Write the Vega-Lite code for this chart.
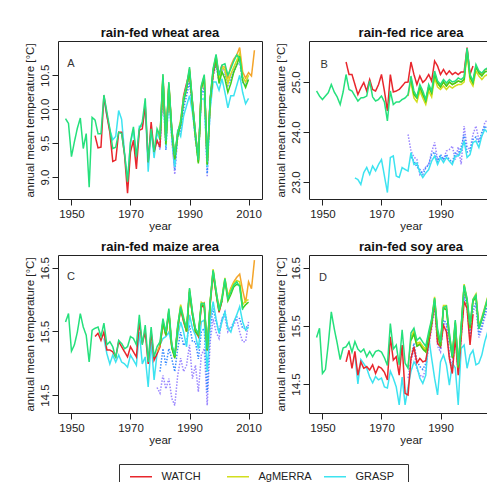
{
  "$schema": "https://vega.github.io/schema/vega-lite/v6.json",
  "padding": {"left": 23, "top": 26, "right": 0, "bottom": 0},
  "bounds": "flush",
  "columns": 2,
  "spacing": {"row": 56, "column": 47},
  "config": {
    "font": "Liberation Sans",
    "view": {"stroke": "#222", "strokeWidth": 1},
    "axis": {"domain": false, "grid": false, "tickColor": "#222", "tickSize": 6, "labelFont": "Liberation Sans", "labelFontSize": 11.5, "labelColor": "#222", "titleFont": "Liberation Sans", "titleFontSize": 11.5, "titleFontWeight": "normal", "titleColor": "#222"},
    "axisX": {"labelPadding": 3, "titlePadding": 1},
    "axisY": {"labelAngle": 270, "labelAlign": "center", "labelBaseline": "alphabetic", "labelPadding": 4, "titlePadding": 4},
    "title": {"fontSize": 13, "fontWeight": "bold", "font": "Liberation Sans", "color": "#111", "baseline": "alphabetic", "offset": 1, "anchor": "middle"}
  },
  "datasets": {
    "A": [
      {"s":"ERA-I","x":1979,"v":9.55},{"s":"ERA-I","x":1980,"v":9.40},{"s":"ERA-I","x":1981,"v":10.35},{"s":"ERA-I","x":1982,"v":9.55},{"s":"ERA-I","x":1983,"v":10.30},{"s":"ERA-I","x":1984,"v":9.60},{"s":"ERA-I","x":1985,"v":9.04},{"s":"ERA-I","x":1986,"v":9.62},{"s":"ERA-I","x":1987,"v":9.70},{"s":"ERA-I","x":1988,"v":10.05},{"s":"ERA-I","x":1989,"v":10.28},{"s":"ERA-I","x":1990,"v":10.45},{"s":"ERA-I","x":1991,"v":10.05},{"s":"ERA-I","x":1992,"v":9.55},{"s":"ERA-I","x":1993,"v":9.30},{"s":"ERA-I","x":1994,"v":10.25},{"s":"ERA-I","x":1995,"v":10.35},{"s":"ERA-I","x":1996,"v":9.00},{"s":"ERA-I","x":1997,"v":10.10},{"s":"ERA-I","x":1998,"v":10.55},{"s":"ERA-I","x":1999,"v":10.70},{"s":"ERA-I","x":2000,"v":10.45},{"s":"ERA-I","x":2001,"v":10.60},{"s":"ERA-I","x":2002,"v":10.55},{"s":"ERA-I","x":2003,"v":10.40},{"s":"ERA-I","x":2004,"v":10.50},{"s":"ERA-I","x":2005,"v":10.60},{"s":"ERA-I","x":2006,"v":10.70},{"s":"ERA-I","x":2007,"v":10.75},{"s":"ERA-I","x":2008,"v":10.45},{"s":"ERA-I","x":2009,"v":10.40},{"s":"ERA-I","x":2010,"v":10.48},
      {"s":"CFSR","x":1980,"v":9.50},{"s":"CFSR","x":1981,"v":10.30},{"s":"CFSR","x":1982,"v":9.40},{"s":"CFSR","x":1983,"v":10.25},{"s":"CFSR","x":1984,"v":9.55},{"s":"CFSR","x":1985,"v":9.10},{"s":"CFSR","x":1986,"v":9.60},{"s":"CFSR","x":1987,"v":9.65},{"s":"CFSR","x":1988,"v":10.00},{"s":"CFSR","x":1989,"v":10.20},{"s":"CFSR","x":1990,"v":10.40},{"s":"CFSR","x":1991,"v":10.00},{"s":"CFSR","x":1992,"v":9.55},{"s":"CFSR","x":1993,"v":9.22},{"s":"CFSR","x":1994,"v":10.20},{"s":"CFSR","x":1995,"v":10.30},{"s":"CFSR","x":1996,"v":9.05},{"s":"CFSR","x":1997,"v":10.05},{"s":"CFSR","x":1998,"v":10.50},{"s":"CFSR","x":1999,"v":10.65},{"s":"CFSR","x":2000,"v":10.40},{"s":"CFSR","x":2001,"v":10.55},{"s":"CFSR","x":2002,"v":10.50},{"s":"CFSR","x":2003,"v":10.35},{"s":"CFSR","x":2004,"v":10.45},{"s":"CFSR","x":2005,"v":10.55},{"s":"CFSR","x":2006,"v":10.65},{"s":"CFSR","x":2007,"v":10.70},{"s":"CFSR","x":2008,"v":10.40},{"s":"CFSR","x":2009,"v":10.35},{"s":"CFSR","x":2010,"v":10.45},
      {"s":"GRASP","x":1961,"v":10.15},{"s":"GRASP","x":1962,"v":9.90},{"s":"GRASP","x":1963,"v":9.70},{"s":"GRASP","x":1964,"v":9.55},{"s":"GRASP","x":1965,"v":9.60},{"s":"GRASP","x":1966,"v":9.98},{"s":"GRASP","x":1967,"v":9.85},{"s":"GRASP","x":1968,"v":9.35},{"s":"GRASP","x":1969,"v":8.95},{"s":"GRASP","x":1970,"v":9.50},{"s":"GRASP","x":1971,"v":9.70},{"s":"GRASP","x":1972,"v":9.25},{"s":"GRASP","x":1973,"v":9.75},{"s":"GRASP","x":1974,"v":9.75},{"s":"GRASP","x":1975,"v":10.05},{"s":"GRASP","x":1976,"v":9.08},{"s":"GRASP","x":1977,"v":9.70},{"s":"GRASP","x":1978,"v":9.28},{"s":"GRASP","x":1979,"v":9.65},{"s":"GRASP","x":1980,"v":9.55},{"s":"GRASP","x":1981,"v":10.30},{"s":"GRASP","x":1982,"v":9.45},{"s":"GRASP","x":1983,"v":10.20},{"s":"GRASP","x":1984,"v":9.60},{"s":"GRASP","x":1985,"v":9.15},{"s":"GRASP","x":1986,"v":9.70},{"s":"GRASP","x":1987,"v":9.60},{"s":"GRASP","x":1988,"v":9.90},{"s":"GRASP","x":1989,"v":10.05},{"s":"GRASP","x":1990,"v":10.20},{"s":"GRASP","x":1991,"v":9.95},{"s":"GRASP","x":1992,"v":9.60},{"s":"GRASP","x":1993,"v":9.35},{"s":"GRASP","x":1994,"v":10.15},{"s":"GRASP","x":1995,"v":10.15},{"s":"GRASP","x":1996,"v":9.15},{"s":"GRASP","x":1997,"v":10.00},{"s":"GRASP","x":1998,"v":10.40},{"s":"GRASP","x":1999,"v":10.40},{"s":"GRASP","x":2000,"v":10.28},{"s":"GRASP","x":2001,"v":10.45},{"s":"GRASP","x":2002,"v":10.25},{"s":"GRASP","x":2003,"v":10.02},{"s":"GRASP","x":2004,"v":10.20},{"s":"GRASP","x":2005,"v":10.20},{"s":"GRASP","x":2006,"v":10.35},{"s":"GRASP","x":2007,"v":10.50},{"s":"GRASP","x":2008,"v":10.25},{"s":"GRASP","x":2009,"v":10.08},{"s":"GRASP","x":2010,"v":10.16},
      {"s":"WATCH","x":1958,"v":9.61},{"s":"WATCH","x":1959,"v":9.43},{"s":"WATCH","x":1960,"v":9.44},{"s":"WATCH","x":1961,"v":10.20},{"s":"WATCH","x":1962,"v":9.91},{"s":"WATCH","x":1963,"v":9.66},{"s":"WATCH","x":1964,"v":9.23},{"s":"WATCH","x":1965,"v":9.25},{"s":"WATCH","x":1966,"v":9.66},{"s":"WATCH","x":1967,"v":9.66},{"s":"WATCH","x":1968,"v":9.32},{"s":"WATCH","x":1969,"v":8.76},{"s":"WATCH","x":1970,"v":9.37},{"s":"WATCH","x":1971,"v":9.54},{"s":"WATCH","x":1972,"v":9.12},{"s":"WATCH","x":1973,"v":9.69},{"s":"WATCH","x":1974,"v":9.71},{"s":"WATCH","x":1975,"v":10.06},{"s":"WATCH","x":1976,"v":9.22},{"s":"WATCH","x":1977,"v":9.81},{"s":"WATCH","x":1978,"v":9.37},{"s":"WATCH","x":1979,"v":9.54},{"s":"WATCH","x":1980,"v":9.44},{"s":"WATCH","x":1981,"v":10.45},{"s":"WATCH","x":1982,"v":9.55},{"s":"WATCH","x":1983,"v":10.35},{"s":"WATCH","x":1984,"v":9.70},{"s":"WATCH","x":1985,"v":9.28},{"s":"WATCH","x":1986,"v":9.65},{"s":"WATCH","x":1987,"v":9.80},{"s":"WATCH","x":1988,"v":10.20},{"s":"WATCH","x":1989,"v":10.38},{"s":"WATCH","x":1990,"v":10.55},{"s":"WATCH","x":1991,"v":10.10},{"s":"WATCH","x":1992,"v":9.65},{"s":"WATCH","x":1993,"v":9.25},{"s":"WATCH","x":1994,"v":10.32},{"s":"WATCH","x":1995,"v":10.45},{"s":"WATCH","x":1996,"v":9.20},{"s":"WATCH","x":1997,"v":10.15},{"s":"WATCH","x":1998,"v":10.50},{"s":"WATCH","x":1999,"v":10.75},{"s":"WATCH","x":2000,"v":10.50},{"s":"WATCH","x":2001,"v":10.65},
      {"s":"WFDEI","x":1979,"v":9.69},{"s":"WFDEI","x":1980,"v":9.59},{"s":"WFDEI","x":1981,"v":10.50},{"s":"WFDEI","x":1982,"v":9.51},{"s":"WFDEI","x":1983,"v":10.38},{"s":"WFDEI","x":1984,"v":9.69},{"s":"WFDEI","x":1985,"v":9.30},{"s":"WFDEI","x":1986,"v":9.64},{"s":"WFDEI","x":1987,"v":9.79},{"s":"WFDEI","x":1988,"v":10.14},{"s":"WFDEI","x":1989,"v":10.33},{"s":"WFDEI","x":1990,"v":10.60},{"s":"WFDEI","x":1991,"v":10.09},{"s":"WFDEI","x":1992,"v":9.64},{"s":"WFDEI","x":1993,"v":9.23},{"s":"WFDEI","x":1994,"v":10.33},{"s":"WFDEI","x":1995,"v":10.49},{"s":"WFDEI","x":1996,"v":9.20},{"s":"WFDEI","x":1997,"v":10.14},{"s":"WFDEI","x":1998,"v":10.58},{"s":"WFDEI","x":1999,"v":10.79},{"s":"WFDEI","x":2000,"v":10.48},{"s":"WFDEI","x":2001,"v":10.63},{"s":"WFDEI","x":2002,"v":10.62},{"s":"WFDEI","x":2003,"v":10.45},{"s":"WFDEI","x":2004,"v":10.64},{"s":"WFDEI","x":2005,"v":10.74},{"s":"WFDEI","x":2006,"v":10.80},{"s":"WFDEI","x":2007,"v":10.91},{"s":"WFDEI","x":2008,"v":10.55},{"s":"WFDEI","x":2009,"v":10.46},{"s":"WFDEI","x":2010,"v":10.54},{"s":"WFDEI","x":2011,"v":10.49},{"s":"WFDEI","x":2012,"v":10.87},
      {"s":"AgMERRA","x":1980,"v":9.58},{"s":"AgMERRA","x":1981,"v":10.50},{"s":"AgMERRA","x":1982,"v":9.50},{"s":"AgMERRA","x":1983,"v":10.38},{"s":"AgMERRA","x":1984,"v":9.68},{"s":"AgMERRA","x":1985,"v":9.30},{"s":"AgMERRA","x":1986,"v":9.64},{"s":"AgMERRA","x":1987,"v":9.85},{"s":"AgMERRA","x":1988,"v":10.18},{"s":"AgMERRA","x":1989,"v":10.32},{"s":"AgMERRA","x":1990,"v":10.58},{"s":"AgMERRA","x":1991,"v":10.08},{"s":"AgMERRA","x":1992,"v":9.62},{"s":"AgMERRA","x":1993,"v":9.22},{"s":"AgMERRA","x":1994,"v":10.32},{"s":"AgMERRA","x":1995,"v":10.48},{"s":"AgMERRA","x":1996,"v":9.20},{"s":"AgMERRA","x":1997,"v":10.14},{"s":"AgMERRA","x":1998,"v":10.58},{"s":"AgMERRA","x":1999,"v":10.78},{"s":"AgMERRA","x":2000,"v":10.42},{"s":"AgMERRA","x":2001,"v":10.62},{"s":"AgMERRA","x":2002,"v":10.58},{"s":"AgMERRA","x":2003,"v":10.38},{"s":"AgMERRA","x":2004,"v":10.52},{"s":"AgMERRA","x":2005,"v":10.62},{"s":"AgMERRA","x":2006,"v":10.72},{"s":"AgMERRA","x":2007,"v":10.82},{"s":"AgMERRA","x":2008,"v":10.48},{"s":"AgMERRA","x":2009,"v":10.40},{"s":"AgMERRA","x":2010,"v":10.50},
      {"s":"AgCFSR","x":1980,"v":9.55},{"s":"AgCFSR","x":1981,"v":10.46},{"s":"AgCFSR","x":1982,"v":9.48},{"s":"AgCFSR","x":1983,"v":10.34},{"s":"AgCFSR","x":1984,"v":9.66},{"s":"AgCFSR","x":1985,"v":9.26},{"s":"AgCFSR","x":1986,"v":9.60},{"s":"AgCFSR","x":1987,"v":9.78},{"s":"AgCFSR","x":1988,"v":10.12},{"s":"AgCFSR","x":1989,"v":10.30},{"s":"AgCFSR","x":1990,"v":10.56},{"s":"AgCFSR","x":1991,"v":10.05},{"s":"AgCFSR","x":1992,"v":9.60},{"s":"AgCFSR","x":1993,"v":9.20},{"s":"AgCFSR","x":1994,"v":10.30},{"s":"AgCFSR","x":1995,"v":10.46},{"s":"AgCFSR","x":1996,"v":9.18},{"s":"AgCFSR","x":1997,"v":10.12},{"s":"AgCFSR","x":1998,"v":10.55},{"s":"AgCFSR","x":1999,"v":10.75},{"s":"AgCFSR","x":2000,"v":10.38},{"s":"AgCFSR","x":2001,"v":10.55},{"s":"AgCFSR","x":2002,"v":10.45},{"s":"AgCFSR","x":2003,"v":10.25},{"s":"AgCFSR","x":2004,"v":10.38},{"s":"AgCFSR","x":2005,"v":10.55},{"s":"AgCFSR","x":2006,"v":10.65},{"s":"AgCFSR","x":2007,"v":10.78},{"s":"AgCFSR","x":2008,"v":10.42},{"s":"AgCFSR","x":2009,"v":10.32},{"s":"AgCFSR","x":2010,"v":10.44},
      {"s":"Princeton","x":1948,"v":9.86},{"s":"Princeton","x":1949,"v":9.79},{"s":"Princeton","x":1950,"v":9.30},{"s":"Princeton","x":1951,"v":9.52},{"s":"Princeton","x":1952,"v":9.72},{"s":"Princeton","x":1953,"v":9.87},{"s":"Princeton","x":1954,"v":9.42},{"s":"Princeton","x":1955,"v":9.64},{"s":"Princeton","x":1956,"v":8.85},{"s":"Princeton","x":1957,"v":9.88},{"s":"Princeton","x":1958,"v":9.84},{"s":"Princeton","x":1959,"v":9.64},{"s":"Princeton","x":1960,"v":9.64},{"s":"Princeton","x":1961,"v":10.21},{"s":"Princeton","x":1962,"v":9.96},{"s":"Princeton","x":1963,"v":9.71},{"s":"Princeton","x":1964,"v":9.42},{"s":"Princeton","x":1965,"v":9.44},{"s":"Princeton","x":1966,"v":9.66},{"s":"Princeton","x":1967,"v":9.64},{"s":"Princeton","x":1968,"v":9.34},{"s":"Princeton","x":1969,"v":8.93},{"s":"Princeton","x":1970,"v":9.52},{"s":"Princeton","x":1971,"v":9.74},{"s":"Princeton","x":1972,"v":9.30},{"s":"Princeton","x":1973,"v":9.71},{"s":"Princeton","x":1974,"v":9.81},{"s":"Princeton","x":1975,"v":10.16},{"s":"Princeton","x":1976,"v":9.22},{"s":"Princeton","x":1977,"v":9.71},{"s":"Princeton","x":1978,"v":9.37},{"s":"Princeton","x":1979,"v":9.71},{"s":"Princeton","x":1980,"v":9.61},{"s":"Princeton","x":1981,"v":10.52},{"s":"Princeton","x":1982,"v":9.53},{"s":"Princeton","x":1983,"v":10.40},{"s":"Princeton","x":1984,"v":9.71},{"s":"Princeton","x":1985,"v":9.32},{"s":"Princeton","x":1986,"v":9.66},{"s":"Princeton","x":1987,"v":9.81},{"s":"Princeton","x":1988,"v":10.16},{"s":"Princeton","x":1989,"v":10.35},{"s":"Princeton","x":1990,"v":10.62},{"s":"Princeton","x":1991,"v":10.11},{"s":"Princeton","x":1992,"v":9.66},{"s":"Princeton","x":1993,"v":9.25},{"s":"Princeton","x":1994,"v":10.35},{"s":"Princeton","x":1995,"v":10.51},{"s":"Princeton","x":1996,"v":9.22},{"s":"Princeton","x":1997,"v":10.16},{"s":"Princeton","x":1998,"v":10.60},{"s":"Princeton","x":1999,"v":10.81},{"s":"Princeton","x":2000,"v":10.50},{"s":"Princeton","x":2001,"v":10.65},{"s":"Princeton","x":2002,"v":10.67},{"s":"Princeton","x":2003,"v":10.50},{"s":"Princeton","x":2004,"v":10.60},{"s":"Princeton","x":2005,"v":10.71},{"s":"Princeton","x":2006,"v":10.80},{"s":"Princeton","x":2007,"v":10.75},{"s":"Princeton","x":2008,"v":10.45}
    ],
    "B": [
      {"s":"ERA-I","x":1979,"v":23.95},{"s":"ERA-I","x":1980,"v":23.62},{"s":"ERA-I","x":1981,"v":23.50},{"s":"ERA-I","x":1982,"v":23.45},{"s":"ERA-I","x":1983,"v":23.15},{"s":"ERA-I","x":1984,"v":23.22},{"s":"ERA-I","x":1985,"v":23.30},{"s":"ERA-I","x":1986,"v":23.35},{"s":"ERA-I","x":1987,"v":23.60},{"s":"ERA-I","x":1988,"v":23.79},{"s":"ERA-I","x":1989,"v":23.45},{"s":"ERA-I","x":1990,"v":23.52},{"s":"ERA-I","x":1991,"v":23.45},{"s":"ERA-I","x":1992,"v":23.62},{"s":"ERA-I","x":1993,"v":23.65},{"s":"ERA-I","x":1994,"v":23.72},{"s":"ERA-I","x":1995,"v":23.45},{"s":"ERA-I","x":1996,"v":23.70},{"s":"ERA-I","x":1997,"v":23.35},{"s":"ERA-I","x":1998,"v":24.12},{"s":"ERA-I","x":1999,"v":23.70},{"s":"ERA-I","x":2000,"v":23.65},{"s":"ERA-I","x":2001,"v":23.95},{"s":"ERA-I","x":2002,"v":24.12},{"s":"ERA-I","x":2003,"v":23.85},{"s":"ERA-I","x":2004,"v":23.90},{"s":"ERA-I","x":2005,"v":24.19},{"s":"ERA-I","x":2006,"v":24.25},{"s":"ERA-I","x":2007,"v":24.30},{"s":"ERA-I","x":2008,"v":24.15},{"s":"ERA-I","x":2009,"v":24.20},{"s":"ERA-I","x":2010,"v":24.28},
      {"s":"CFSR","x":1980,"v":23.50},{"s":"CFSR","x":1981,"v":23.42},{"s":"CFSR","x":1982,"v":23.30},{"s":"CFSR","x":1983,"v":23.25},{"s":"CFSR","x":1984,"v":23.15},{"s":"CFSR","x":1985,"v":23.28},{"s":"CFSR","x":1986,"v":23.35},{"s":"CFSR","x":1987,"v":23.55},{"s":"CFSR","x":1988,"v":23.60},{"s":"CFSR","x":1989,"v":23.40},{"s":"CFSR","x":1990,"v":23.55},{"s":"CFSR","x":1991,"v":23.45},{"s":"CFSR","x":1992,"v":23.55},{"s":"CFSR","x":1993,"v":23.45},{"s":"CFSR","x":1994,"v":23.40},{"s":"CFSR","x":1995,"v":23.58},{"s":"CFSR","x":1996,"v":23.55},{"s":"CFSR","x":1997,"v":23.70},{"s":"CFSR","x":1998,"v":23.95},{"s":"CFSR","x":1999,"v":23.60},{"s":"CFSR","x":2000,"v":23.62},{"s":"CFSR","x":2001,"v":23.85},{"s":"CFSR","x":2002,"v":23.90},{"s":"CFSR","x":2003,"v":23.78},{"s":"CFSR","x":2004,"v":24.00},{"s":"CFSR","x":2005,"v":24.12},{"s":"CFSR","x":2006,"v":24.05},{"s":"CFSR","x":2007,"v":24.15},{"s":"CFSR","x":2008,"v":24.10},{"s":"CFSR","x":2009,"v":24.15},{"s":"CFSR","x":2010,"v":24.20},
      {"s":"GRASP","x":1961,"v":23.08},{"s":"GRASP","x":1962,"v":23.05},{"s":"GRASP","x":1963,"v":22.95},{"s":"GRASP","x":1964,"v":23.19},{"s":"GRASP","x":1965,"v":23.29},{"s":"GRASP","x":1966,"v":23.15},{"s":"GRASP","x":1967,"v":23.32},{"s":"GRASP","x":1968,"v":23.22},{"s":"GRASP","x":1969,"v":23.35},{"s":"GRASP","x":1970,"v":23.45},{"s":"GRASP","x":1971,"v":23.12},{"s":"GRASP","x":1972,"v":22.79},{"s":"GRASP","x":1973,"v":23.49},{"s":"GRASP","x":1974,"v":23.52},{"s":"GRASP","x":1975,"v":23.12},{"s":"GRASP","x":1976,"v":23.09},{"s":"GRASP","x":1977,"v":23.29},{"s":"GRASP","x":1978,"v":23.25},{"s":"GRASP","x":1979,"v":23.22},{"s":"GRASP","x":1980,"v":23.59},{"s":"GRASP","x":1981,"v":23.35},{"s":"GRASP","x":1982,"v":23.38},{"s":"GRASP","x":1983,"v":23.19},{"s":"GRASP","x":1984,"v":23.09},{"s":"GRASP","x":1985,"v":23.18},{"s":"GRASP","x":1986,"v":23.25},{"s":"GRASP","x":1987,"v":23.42},{"s":"GRASP","x":1988,"v":23.52},{"s":"GRASP","x":1989,"v":23.35},{"s":"GRASP","x":1990,"v":23.49},{"s":"GRASP","x":1991,"v":23.39},{"s":"GRASP","x":1992,"v":23.49},{"s":"GRASP","x":1993,"v":23.42},{"s":"GRASP","x":1994,"v":23.35},{"s":"GRASP","x":1995,"v":23.52},{"s":"GRASP","x":1996,"v":23.52},{"s":"GRASP","x":1997,"v":23.62},{"s":"GRASP","x":1998,"v":23.82},{"s":"GRASP","x":1999,"v":23.49},{"s":"GRASP","x":2000,"v":23.55},{"s":"GRASP","x":2001,"v":23.79},{"s":"GRASP","x":2002,"v":23.82},{"s":"GRASP","x":2003,"v":23.69},{"s":"GRASP","x":2004,"v":23.92},{"s":"GRASP","x":2005,"v":24.05},{"s":"GRASP","x":2006,"v":23.99},{"s":"GRASP","x":2007,"v":24.05},{"s":"GRASP","x":2008,"v":24.00},{"s":"GRASP","x":2009,"v":24.08},{"s":"GRASP","x":2010,"v":24.12},
      {"s":"WATCH","x":1958,"v":25.40},{"s":"WATCH","x":1959,"v":25.15},{"s":"WATCH","x":1960,"v":25.15},{"s":"WATCH","x":1961,"v":24.95},{"s":"WATCH","x":1962,"v":24.75},{"s":"WATCH","x":1963,"v":24.88},{"s":"WATCH","x":1964,"v":24.99},{"s":"WATCH","x":1965,"v":24.82},{"s":"WATCH","x":1966,"v":25.05},{"s":"WATCH","x":1967,"v":24.85},{"s":"WATCH","x":1968,"v":24.82},{"s":"WATCH","x":1969,"v":24.95},{"s":"WATCH","x":1970,"v":25.15},{"s":"WATCH","x":1971,"v":24.82},{"s":"WATCH","x":1972,"v":24.42},{"s":"WATCH","x":1973,"v":25.15},{"s":"WATCH","x":1974,"v":24.80},{"s":"WATCH","x":1975,"v":24.82},{"s":"WATCH","x":1976,"v":24.85},{"s":"WATCH","x":1977,"v":24.92},{"s":"WATCH","x":1978,"v":24.99},{"s":"WATCH","x":1979,"v":25.00},{"s":"WATCH","x":1980,"v":25.40},{"s":"WATCH","x":1981,"v":25.15},{"s":"WATCH","x":1982,"v":24.95},{"s":"WATCH","x":1983,"v":25.12},{"s":"WATCH","x":1984,"v":24.99},{"s":"WATCH","x":1985,"v":25.05},{"s":"WATCH","x":1986,"v":25.15},{"s":"WATCH","x":1987,"v":25.02},{"s":"WATCH","x":1988,"v":25.42},{"s":"WATCH","x":1989,"v":25.32},{"s":"WATCH","x":1990,"v":25.15},{"s":"WATCH","x":1991,"v":25.25},{"s":"WATCH","x":1992,"v":25.15},{"s":"WATCH","x":1993,"v":25.22},{"s":"WATCH","x":1994,"v":25.15},{"s":"WATCH","x":1995,"v":25.19},{"s":"WATCH","x":1996,"v":25.15},{"s":"WATCH","x":1997,"v":25.20},{"s":"WATCH","x":1998,"v":25.20},{"s":"WATCH","x":1999,"v":25.69},{"s":"WATCH","x":2000,"v":25.15},{"s":"WATCH","x":2001,"v":25.32},
      {"s":"WFDEI","x":1979,"v":24.72},{"s":"WFDEI","x":1980,"v":25.05},{"s":"WFDEI","x":1981,"v":24.75},{"s":"WFDEI","x":1982,"v":24.68},{"s":"WFDEI","x":1983,"v":24.90},{"s":"WFDEI","x":1984,"v":24.75},{"s":"WFDEI","x":1985,"v":24.62},{"s":"WFDEI","x":1986,"v":24.90},{"s":"WFDEI","x":1987,"v":24.78},{"s":"WFDEI","x":1988,"v":25.15},{"s":"WFDEI","x":1989,"v":24.98},{"s":"WFDEI","x":1990,"v":24.90},{"s":"WFDEI","x":1991,"v":25.00},{"s":"WFDEI","x":1992,"v":24.92},{"s":"WFDEI","x":1993,"v":25.00},{"s":"WFDEI","x":1994,"v":24.95},{"s":"WFDEI","x":1995,"v":24.98},{"s":"WFDEI","x":1996,"v":25.02},{"s":"WFDEI","x":1997,"v":25.00},{"s":"WFDEI","x":1998,"v":25.05},{"s":"WFDEI","x":1999,"v":25.65},{"s":"WFDEI","x":2000,"v":25.10},{"s":"WFDEI","x":2001,"v":24.98},{"s":"WFDEI","x":2002,"v":25.32},{"s":"WFDEI","x":2003,"v":25.20},{"s":"WFDEI","x":2004,"v":25.15},{"s":"WFDEI","x":2005,"v":25.24},{"s":"WFDEI","x":2006,"v":25.26},{"s":"WFDEI","x":2007,"v":25.34},{"s":"WFDEI","x":2008,"v":25.26},{"s":"WFDEI","x":2009,"v":25.32},{"s":"WFDEI","x":2010,"v":25.38},{"s":"WFDEI","x":2011,"v":25.30},{"s":"WFDEI","x":2012,"v":25.36},
      {"s":"AgMERRA","x":1980,"v":24.98},{"s":"AgMERRA","x":1981,"v":24.68},{"s":"AgMERRA","x":1982,"v":24.60},{"s":"AgMERRA","x":1983,"v":24.82},{"s":"AgMERRA","x":1984,"v":24.68},{"s":"AgMERRA","x":1985,"v":24.55},{"s":"AgMERRA","x":1986,"v":24.82},{"s":"AgMERRA","x":1987,"v":24.70},{"s":"AgMERRA","x":1988,"v":25.08},{"s":"AgMERRA","x":1989,"v":24.90},{"s":"AgMERRA","x":1990,"v":24.85},{"s":"AgMERRA","x":1991,"v":24.92},{"s":"AgMERRA","x":1992,"v":24.85},{"s":"AgMERRA","x":1993,"v":24.92},{"s":"AgMERRA","x":1994,"v":24.88},{"s":"AgMERRA","x":1995,"v":24.92},{"s":"AgMERRA","x":1996,"v":24.95},{"s":"AgMERRA","x":1997,"v":24.95},{"s":"AgMERRA","x":1998,"v":25.00},{"s":"AgMERRA","x":1999,"v":25.60},{"s":"AgMERRA","x":2000,"v":25.02},{"s":"AgMERRA","x":2001,"v":24.92},{"s":"AgMERRA","x":2002,"v":25.22},{"s":"AgMERRA","x":2003,"v":25.12},{"s":"AgMERRA","x":2004,"v":25.05},{"s":"AgMERRA","x":2005,"v":25.12},{"s":"AgMERRA","x":2006,"v":25.15},{"s":"AgMERRA","x":2007,"v":25.20},{"s":"AgMERRA","x":2008,"v":25.15},{"s":"AgMERRA","x":2009,"v":25.18},{"s":"AgMERRA","x":2010,"v":25.22},
      {"s":"AgCFSR","x":1980,"v":25.05},{"s":"AgCFSR","x":1981,"v":24.75},{"s":"AgCFSR","x":1982,"v":24.68},{"s":"AgCFSR","x":1983,"v":24.90},{"s":"AgCFSR","x":1984,"v":24.75},{"s":"AgCFSR","x":1985,"v":24.62},{"s":"AgCFSR","x":1986,"v":24.90},{"s":"AgCFSR","x":1987,"v":24.78},{"s":"AgCFSR","x":1988,"v":25.15},{"s":"AgCFSR","x":1989,"v":24.98},{"s":"AgCFSR","x":1990,"v":24.90},{"s":"AgCFSR","x":1991,"v":25.00},{"s":"AgCFSR","x":1992,"v":24.92},{"s":"AgCFSR","x":1993,"v":25.00},{"s":"AgCFSR","x":1994,"v":24.95},{"s":"AgCFSR","x":1995,"v":24.98},{"s":"AgCFSR","x":1996,"v":25.02},{"s":"AgCFSR","x":1997,"v":25.00},{"s":"AgCFSR","x":1998,"v":25.05},{"s":"AgCFSR","x":1999,"v":25.65},{"s":"AgCFSR","x":2000,"v":25.10},{"s":"AgCFSR","x":2001,"v":24.98},{"s":"AgCFSR","x":2002,"v":25.30},{"s":"AgCFSR","x":2003,"v":25.18},{"s":"AgCFSR","x":2004,"v":25.12},{"s":"AgCFSR","x":2005,"v":25.20},{"s":"AgCFSR","x":2006,"v":25.22},{"s":"AgCFSR","x":2007,"v":25.28},{"s":"AgCFSR","x":2008,"v":25.20},{"s":"AgCFSR","x":2009,"v":25.25},{"s":"AgCFSR","x":2010,"v":25.30},
      {"s":"Princeton","x":1948,"v":24.82},{"s":"Princeton","x":1949,"v":24.72},{"s":"Princeton","x":1950,"v":24.65},{"s":"Princeton","x":1951,"v":24.72},{"s":"Princeton","x":1952,"v":24.79},{"s":"Princeton","x":1953,"v":24.95},{"s":"Princeton","x":1954,"v":24.80},{"s":"Princeton","x":1955,"v":24.70},{"s":"Princeton","x":1956,"v":24.55},{"s":"Princeton","x":1957,"v":24.80},{"s":"Princeton","x":1958,"v":25.15},{"s":"Princeton","x":1959,"v":24.85},{"s":"Princeton","x":1960,"v":24.82},{"s":"Princeton","x":1961,"v":24.72},{"s":"Princeton","x":1962,"v":24.62},{"s":"Princeton","x":1963,"v":24.68},{"s":"Princeton","x":1964,"v":24.69},{"s":"Princeton","x":1965,"v":24.72},{"s":"Princeton","x":1966,"v":25.02},{"s":"Princeton","x":1967,"v":24.70},{"s":"Princeton","x":1968,"v":24.62},{"s":"Princeton","x":1969,"v":24.65},{"s":"Princeton","x":1970,"v":24.72},{"s":"Princeton","x":1971,"v":24.60},{"s":"Princeton","x":1972,"v":24.22},{"s":"Princeton","x":1973,"v":24.82},{"s":"Princeton","x":1974,"v":24.55},{"s":"Princeton","x":1975,"v":24.60},{"s":"Princeton","x":1976,"v":24.60},{"s":"Princeton","x":1977,"v":24.65},{"s":"Princeton","x":1978,"v":24.68},{"s":"Princeton","x":1979,"v":24.75},{"s":"Princeton","x":1980,"v":25.12},{"s":"Princeton","x":1981,"v":24.82},{"s":"Princeton","x":1982,"v":24.70},{"s":"Princeton","x":1983,"v":24.95},{"s":"Princeton","x":1984,"v":24.82},{"s":"Princeton","x":1985,"v":24.65},{"s":"Princeton","x":1986,"v":24.95},{"s":"Princeton","x":1987,"v":24.82},{"s":"Princeton","x":1988,"v":25.22},{"s":"Princeton","x":1989,"v":25.02},{"s":"Princeton","x":1990,"v":24.95},{"s":"Princeton","x":1991,"v":25.05},{"s":"Princeton","x":1992,"v":24.98},{"s":"Princeton","x":1993,"v":25.05},{"s":"Princeton","x":1994,"v":25.00},{"s":"Princeton","x":1995,"v":25.02},{"s":"Princeton","x":1996,"v":25.08},{"s":"Princeton","x":1997,"v":25.05},{"s":"Princeton","x":1998,"v":25.10},{"s":"Princeton","x":1999,"v":25.68},{"s":"Princeton","x":2000,"v":25.15},{"s":"Princeton","x":2001,"v":25.02},{"s":"Princeton","x":2002,"v":25.35},{"s":"Princeton","x":2003,"v":25.22},{"s":"Princeton","x":2004,"v":25.18},{"s":"Princeton","x":2005,"v":25.25},{"s":"Princeton","x":2006,"v":25.28},{"s":"Princeton","x":2007,"v":25.32},{"s":"Princeton","x":2008,"v":25.25}
    ],
    "C": [
      {"s":"ERA-I","x":1979,"v":14.62},{"s":"ERA-I","x":1980,"v":14.53},{"s":"ERA-I","x":1981,"v":14.81},{"s":"ERA-I","x":1982,"v":14.60},{"s":"ERA-I","x":1983,"v":14.76},{"s":"ERA-I","x":1984,"v":14.45},{"s":"ERA-I","x":1985,"v":14.34},{"s":"ERA-I","x":1986,"v":14.81},{"s":"ERA-I","x":1987,"v":15.08},{"s":"ERA-I","x":1988,"v":14.87},{"s":"ERA-I","x":1989,"v":14.97},{"s":"ERA-I","x":1990,"v":15.29},{"s":"ERA-I","x":1991,"v":14.76},{"s":"ERA-I","x":1992,"v":14.97},{"s":"ERA-I","x":1993,"v":14.55},{"s":"ERA-I","x":1994,"v":15.13},{"s":"ERA-I","x":1995,"v":15.23},{"s":"ERA-I","x":1996,"v":14.34},{"s":"ERA-I","x":1997,"v":15.34},{"s":"ERA-I","x":1998,"v":15.70},{"s":"ERA-I","x":1999,"v":15.49},{"s":"ERA-I","x":2000,"v":15.39},{"s":"ERA-I","x":2001,"v":15.70},{"s":"ERA-I","x":2002,"v":15.73},{"s":"ERA-I","x":2003,"v":15.49},{"s":"ERA-I","x":2004,"v":15.55},{"s":"ERA-I","x":2005,"v":15.60},{"s":"ERA-I","x":2006,"v":15.70},{"s":"ERA-I","x":2007,"v":15.49},{"s":"ERA-I","x":2008,"v":15.34},{"s":"ERA-I","x":2009,"v":15.34},{"s":"ERA-I","x":2010,"v":15.65},
      {"s":"CFSR","x":1980,"v":14.87},{"s":"CFSR","x":1981,"v":15.23},{"s":"CFSR","x":1982,"v":14.97},{"s":"CFSR","x":1983,"v":15.23},{"s":"CFSR","x":1984,"v":15.07},{"s":"CFSR","x":1985,"v":14.87},{"s":"CFSR","x":1986,"v":15.23},{"s":"CFSR","x":1987,"v":15.49},{"s":"CFSR","x":1988,"v":15.28},{"s":"CFSR","x":1989,"v":15.34},{"s":"CFSR","x":1990,"v":15.60},{"s":"CFSR","x":1991,"v":15.34},{"s":"CFSR","x":1992,"v":15.34},{"s":"CFSR","x":1993,"v":15.07},{"s":"CFSR","x":1994,"v":15.49},{"s":"CFSR","x":1995,"v":15.55},{"s":"CFSR","x":1996,"v":14.55},{"s":"CFSR","x":1997,"v":15.55},{"s":"CFSR","x":1998,"v":15.86},{"s":"CFSR","x":1999,"v":15.65},{"s":"CFSR","x":2000,"v":15.49},{"s":"CFSR","x":2001,"v":15.70},{"s":"CFSR","x":2002,"v":15.81},{"s":"CFSR","x":2003,"v":15.55},{"s":"CFSR","x":2004,"v":15.55},{"s":"CFSR","x":2005,"v":15.65},{"s":"CFSR","x":2006,"v":15.73},{"s":"CFSR","x":2007,"v":15.70},{"s":"CFSR","x":2008,"v":15.55},{"s":"CFSR","x":2009,"v":15.55},{"s":"CFSR","x":2010,"v":15.60},
      {"s":"GRASP","x":1961,"v":15.39},{"s":"GRASP","x":1962,"v":15.15},{"s":"GRASP","x":1963,"v":14.99},{"s":"GRASP","x":1964,"v":15.13},{"s":"GRASP","x":1965,"v":15.02},{"s":"GRASP","x":1966,"v":15.13},{"s":"GRASP","x":1967,"v":15.02},{"s":"GRASP","x":1968,"v":14.99},{"s":"GRASP","x":1969,"v":14.94},{"s":"GRASP","x":1970,"v":15.13},{"s":"GRASP","x":1971,"v":15.05},{"s":"GRASP","x":1972,"v":14.97},{"s":"GRASP","x":1973,"v":15.49},{"s":"GRASP","x":1974,"v":14.99},{"s":"GRASP","x":1975,"v":15.10},{"s":"GRASP","x":1976,"v":14.63},{"s":"GRASP","x":1977,"v":15.34},{"s":"GRASP","x":1978,"v":14.74},{"s":"GRASP","x":1979,"v":15.15},{"s":"GRASP","x":1980,"v":15.29},{"s":"GRASP","x":1981,"v":15.39},{"s":"GRASP","x":1982,"v":15.42},{"s":"GRASP","x":1983,"v":15.49},{"s":"GRASP","x":1984,"v":15.29},{"s":"GRASP","x":1985,"v":15.13},{"s":"GRASP","x":1986,"v":15.42},{"s":"GRASP","x":1987,"v":15.65},{"s":"GRASP","x":1988,"v":15.49},{"s":"GRASP","x":1989,"v":15.26},{"s":"GRASP","x":1990,"v":15.76},{"s":"GRASP","x":1991,"v":15.55},{"s":"GRASP","x":1992,"v":15.44},{"s":"GRASP","x":1993,"v":15.23},{"s":"GRASP","x":1994,"v":15.65},{"s":"GRASP","x":1995,"v":15.68},{"s":"GRASP","x":1996,"v":14.87},{"s":"GRASP","x":1997,"v":15.68},{"s":"GRASP","x":1998,"v":15.97},{"s":"GRASP","x":1999,"v":15.70},{"s":"GRASP","x":2000,"v":15.47},{"s":"GRASP","x":2001,"v":15.65},{"s":"GRASP","x":2002,"v":15.81},{"s":"GRASP","x":2003,"v":15.55},{"s":"GRASP","x":2004,"v":15.49},{"s":"GRASP","x":2005,"v":15.65},{"s":"GRASP","x":2006,"v":15.76},{"s":"GRASP","x":2007,"v":15.89},{"s":"GRASP","x":2008,"v":15.65},{"s":"GRASP","x":2009,"v":15.52},{"s":"GRASP","x":2010,"v":15.57},
      {"s":"WATCH","x":1958,"v":15.42},{"s":"WATCH","x":1959,"v":15.47},{"s":"WATCH","x":1960,"v":15.36},{"s":"WATCH","x":1961,"v":15.49},{"s":"WATCH","x":1962,"v":15.21},{"s":"WATCH","x":1963,"v":15.21},{"s":"WATCH","x":1964,"v":15.18},{"s":"WATCH","x":1965,"v":15.10},{"s":"WATCH","x":1966,"v":15.34},{"s":"WATCH","x":1967,"v":15.26},{"s":"WATCH","x":1968,"v":15.18},{"s":"WATCH","x":1969,"v":15.10},{"s":"WATCH","x":1970,"v":15.26},{"s":"WATCH","x":1971,"v":15.18},{"s":"WATCH","x":1972,"v":15.10},{"s":"WATCH","x":1973,"v":15.65},{"s":"WATCH","x":1974,"v":15.31},{"s":"WATCH","x":1975,"v":15.49},{"s":"WATCH","x":1976,"v":14.99},{"s":"WATCH","x":1977,"v":15.49},{"s":"WATCH","x":1978,"v":15.05},{"s":"WATCH","x":1979,"v":15.15},{"s":"WATCH","x":1980,"v":15.26},{"s":"WATCH","x":1981,"v":15.63},{"s":"WATCH","x":1982,"v":15.44},{"s":"WATCH","x":1983,"v":15.80},{"s":"WATCH","x":1984,"v":15.25},{"s":"WATCH","x":1985,"v":15.10},{"s":"WATCH","x":1986,"v":15.55},{"s":"WATCH","x":1987,"v":15.85},{"s":"WATCH","x":1988,"v":15.65},{"s":"WATCH","x":1989,"v":15.50},{"s":"WATCH","x":1990,"v":16.12},{"s":"WATCH","x":1991,"v":15.76},{"s":"WATCH","x":1992,"v":15.50},{"s":"WATCH","x":1993,"v":15.42},{"s":"WATCH","x":1994,"v":15.90},{"s":"WATCH","x":1995,"v":15.88},{"s":"WATCH","x":1996,"v":15.20},{"s":"WATCH","x":1997,"v":15.92},{"s":"WATCH","x":1998,"v":16.40},{"s":"WATCH","x":1999,"v":16.10},{"s":"WATCH","x":2000,"v":15.80},{"s":"WATCH","x":2001,"v":15.98},
      {"s":"WFDEI","x":1979,"v":15.18},{"s":"WFDEI","x":1980,"v":15.28},{"s":"WFDEI","x":1981,"v":15.64},{"s":"WFDEI","x":1982,"v":15.45},{"s":"WFDEI","x":1983,"v":15.82},{"s":"WFDEI","x":1984,"v":15.26},{"s":"WFDEI","x":1985,"v":15.10},{"s":"WFDEI","x":1986,"v":15.56},{"s":"WFDEI","x":1987,"v":15.90},{"s":"WFDEI","x":1988,"v":15.68},{"s":"WFDEI","x":1989,"v":15.50},{"s":"WFDEI","x":1990,"v":16.14},{"s":"WFDEI","x":1991,"v":15.78},{"s":"WFDEI","x":1992,"v":15.52},{"s":"WFDEI","x":1993,"v":15.44},{"s":"WFDEI","x":1994,"v":15.92},{"s":"WFDEI","x":1995,"v":15.95},{"s":"WFDEI","x":1996,"v":15.22},{"s":"WFDEI","x":1997,"v":15.96},{"s":"WFDEI","x":1998,"v":16.45},{"s":"WFDEI","x":1999,"v":16.12},{"s":"WFDEI","x":2000,"v":15.84},{"s":"WFDEI","x":2001,"v":16.02},{"s":"WFDEI","x":2002,"v":16.32},{"s":"WFDEI","x":2003,"v":16.05},{"s":"WFDEI","x":2004,"v":16.18},{"s":"WFDEI","x":2005,"v":16.28},{"s":"WFDEI","x":2006,"v":16.35},{"s":"WFDEI","x":2007,"v":16.40},{"s":"WFDEI","x":2008,"v":16.15},{"s":"WFDEI","x":2009,"v":15.95},{"s":"WFDEI","x":2010,"v":16.28},{"s":"WFDEI","x":2011,"v":16.17},{"s":"WFDEI","x":2012,"v":16.62},
      {"s":"AgMERRA","x":1980,"v":15.30},{"s":"AgMERRA","x":1981,"v":15.66},{"s":"AgMERRA","x":1982,"v":15.46},{"s":"AgMERRA","x":1983,"v":15.84},{"s":"AgMERRA","x":1984,"v":15.27},{"s":"AgMERRA","x":1985,"v":15.10},{"s":"AgMERRA","x":1986,"v":15.58},{"s":"AgMERRA","x":1987,"v":15.92},{"s":"AgMERRA","x":1988,"v":15.72},{"s":"AgMERRA","x":1989,"v":15.52},{"s":"AgMERRA","x":1990,"v":16.16},{"s":"AgMERRA","x":1991,"v":15.80},{"s":"AgMERRA","x":1992,"v":15.52},{"s":"AgMERRA","x":1993,"v":15.46},{"s":"AgMERRA","x":1994,"v":15.96},{"s":"AgMERRA","x":1995,"v":15.92},{"s":"AgMERRA","x":1996,"v":15.22},{"s":"AgMERRA","x":1997,"v":15.98},{"s":"AgMERRA","x":1998,"v":16.48},{"s":"AgMERRA","x":1999,"v":16.14},{"s":"AgMERRA","x":2000,"v":15.86},{"s":"AgMERRA","x":2001,"v":16.04},{"s":"AgMERRA","x":2002,"v":16.34},{"s":"AgMERRA","x":2003,"v":16.05},{"s":"AgMERRA","x":2004,"v":16.16},{"s":"AgMERRA","x":2005,"v":16.26},{"s":"AgMERRA","x":2006,"v":16.30},{"s":"AgMERRA","x":2007,"v":16.28},{"s":"AgMERRA","x":2008,"v":15.92},{"s":"AgMERRA","x":2009,"v":15.98},{"s":"AgMERRA","x":2010,"v":16.00},
      {"s":"AgCFSR","x":1980,"v":15.28},{"s":"AgCFSR","x":1981,"v":15.64},{"s":"AgCFSR","x":1982,"v":15.44},{"s":"AgCFSR","x":1983,"v":15.80},{"s":"AgCFSR","x":1984,"v":15.24},{"s":"AgCFSR","x":1985,"v":15.08},{"s":"AgCFSR","x":1986,"v":15.55},{"s":"AgCFSR","x":1987,"v":15.86},{"s":"AgCFSR","x":1988,"v":15.68},{"s":"AgCFSR","x":1989,"v":15.50},{"s":"AgCFSR","x":1990,"v":16.12},{"s":"AgCFSR","x":1991,"v":15.76},{"s":"AgCFSR","x":1992,"v":15.50},{"s":"AgCFSR","x":1993,"v":15.44},{"s":"AgCFSR","x":1994,"v":15.92},{"s":"AgCFSR","x":1995,"v":15.90},{"s":"AgCFSR","x":1996,"v":15.20},{"s":"AgCFSR","x":1997,"v":15.95},{"s":"AgCFSR","x":1998,"v":16.45},{"s":"AgCFSR","x":1999,"v":16.10},{"s":"AgCFSR","x":2000,"v":15.82},{"s":"AgCFSR","x":2001,"v":15.98},{"s":"AgCFSR","x":2002,"v":16.30},{"s":"AgCFSR","x":2003,"v":15.98},{"s":"AgCFSR","x":2004,"v":16.08},{"s":"AgCFSR","x":2005,"v":16.20},{"s":"AgCFSR","x":2006,"v":16.24},{"s":"AgCFSR","x":2007,"v":16.22},{"s":"AgCFSR","x":2008,"v":15.86},{"s":"AgCFSR","x":2009,"v":15.92},{"s":"AgCFSR","x":2010,"v":15.96},
      {"s":"Princeton","x":1948,"v":15.65},{"s":"Princeton","x":1949,"v":15.78},{"s":"Princeton","x":1950,"v":15.19},{"s":"Princeton","x":1951,"v":15.29},{"s":"Princeton","x":1952,"v":15.49},{"s":"Princeton","x":1953,"v":15.78},{"s":"Princeton","x":1954,"v":15.57},{"s":"Princeton","x":1955,"v":15.44},{"s":"Princeton","x":1956,"v":15.02},{"s":"Princeton","x":1957,"v":15.52},{"s":"Princeton","x":1958,"v":15.55},{"s":"Princeton","x":1959,"v":15.57},{"s":"Princeton","x":1960,"v":15.42},{"s":"Princeton","x":1961,"v":15.63},{"s":"Princeton","x":1962,"v":15.29},{"s":"Princeton","x":1963,"v":15.34},{"s":"Princeton","x":1964,"v":15.26},{"s":"Princeton","x":1965,"v":15.08},{"s":"Princeton","x":1966,"v":15.36},{"s":"Princeton","x":1967,"v":15.31},{"s":"Princeton","x":1968,"v":15.23},{"s":"Princeton","x":1969,"v":15.26},{"s":"Princeton","x":1970,"v":15.42},{"s":"Princeton","x":1971,"v":15.39},{"s":"Princeton","x":1972,"v":15.29},{"s":"Princeton","x":1973,"v":15.76},{"s":"Princeton","x":1974,"v":15.29},{"s":"Princeton","x":1975,"v":15.60},{"s":"Princeton","x":1976,"v":15.02},{"s":"Princeton","x":1977,"v":15.57},{"s":"Princeton","x":1978,"v":15.10},{"s":"Princeton","x":1979,"v":15.26},{"s":"Princeton","x":1980,"v":15.34},{"s":"Princeton","x":1981,"v":15.70},{"s":"Princeton","x":1982,"v":15.49},{"s":"Princeton","x":1983,"v":15.86},{"s":"Princeton","x":1984,"v":15.29},{"s":"Princeton","x":1985,"v":15.12},{"s":"Princeton","x":1986,"v":15.60},{"s":"Princeton","x":1987,"v":15.89},{"s":"Princeton","x":1988,"v":15.70},{"s":"Princeton","x":1989,"v":15.55},{"s":"Princeton","x":1990,"v":16.18},{"s":"Princeton","x":1991,"v":15.81},{"s":"Princeton","x":1992,"v":15.55},{"s":"Princeton","x":1993,"v":15.47},{"s":"Princeton","x":1994,"v":15.94},{"s":"Princeton","x":1995,"v":15.94},{"s":"Princeton","x":1996,"v":15.23},{"s":"Princeton","x":1997,"v":15.97},{"s":"Princeton","x":1998,"v":16.46},{"s":"Princeton","x":1999,"v":16.15},{"s":"Princeton","x":2000,"v":15.84},{"s":"Princeton","x":2001,"v":16.02},{"s":"Princeton","x":2002,"v":16.33},{"s":"Princeton","x":2003,"v":16.02},{"s":"Princeton","x":2004,"v":16.12},{"s":"Princeton","x":2005,"v":16.23},{"s":"Princeton","x":2006,"v":16.28},{"s":"Princeton","x":2007,"v":16.20},{"s":"Princeton","x":2008,"v":15.84}
    ],
    "D": [
      {"s":"ERA-I","x":1979,"v":14.60},{"s":"ERA-I","x":1980,"v":14.90},{"s":"ERA-I","x":1981,"v":15.10},{"s":"ERA-I","x":1982,"v":14.75},{"s":"ERA-I","x":1983,"v":14.65},{"s":"ERA-I","x":1984,"v":14.62},{"s":"ERA-I","x":1985,"v":14.75},{"s":"ERA-I","x":1986,"v":15.15},{"s":"ERA-I","x":1987,"v":15.45},{"s":"ERA-I","x":1988,"v":15.85},{"s":"ERA-I","x":1989,"v":15.15},{"s":"ERA-I","x":1990,"v":15.05},{"s":"ERA-I","x":1991,"v":15.55},{"s":"ERA-I","x":1992,"v":15.50},{"s":"ERA-I","x":1993,"v":14.95},{"s":"ERA-I","x":1994,"v":14.70},{"s":"ERA-I","x":1995,"v":15.35},{"s":"ERA-I","x":1996,"v":14.68},{"s":"ERA-I","x":1997,"v":15.30},{"s":"ERA-I","x":1998,"v":16.00},{"s":"ERA-I","x":1999,"v":15.80},{"s":"ERA-I","x":2000,"v":15.25},{"s":"ERA-I","x":2001,"v":15.75},{"s":"ERA-I","x":2002,"v":15.85},{"s":"ERA-I","x":2003,"v":15.30},{"s":"ERA-I","x":2004,"v":15.45},{"s":"ERA-I","x":2005,"v":15.65},{"s":"ERA-I","x":2006,"v":15.80},{"s":"ERA-I","x":2007,"v":15.95},{"s":"ERA-I","x":2008,"v":15.80},{"s":"ERA-I","x":2009,"v":15.85},{"s":"ERA-I","x":2010,"v":15.95},
      {"s":"CFSR","x":1980,"v":14.95},{"s":"CFSR","x":1981,"v":15.20},{"s":"CFSR","x":1982,"v":14.90},{"s":"CFSR","x":1983,"v":14.80},{"s":"CFSR","x":1984,"v":14.75},{"s":"CFSR","x":1985,"v":14.85},{"s":"CFSR","x":1986,"v":15.25},{"s":"CFSR","x":1987,"v":15.55},{"s":"CFSR","x":1988,"v":15.90},{"s":"CFSR","x":1989,"v":15.25},{"s":"CFSR","x":1990,"v":15.10},{"s":"CFSR","x":1991,"v":15.60},{"s":"CFSR","x":1992,"v":15.55},{"s":"CFSR","x":1993,"v":15.00},{"s":"CFSR","x":1994,"v":14.75},{"s":"CFSR","x":1995,"v":15.40},{"s":"CFSR","x":1996,"v":14.70},{"s":"CFSR","x":1997,"v":15.35},{"s":"CFSR","x":1998,"v":16.05},{"s":"CFSR","x":1999,"v":15.85},{"s":"CFSR","x":2000,"v":15.30},{"s":"CFSR","x":2001,"v":15.80},{"s":"CFSR","x":2002,"v":15.90},{"s":"CFSR","x":2003,"v":15.35},{"s":"CFSR","x":2004,"v":15.50},{"s":"CFSR","x":2005,"v":15.70},{"s":"CFSR","x":2006,"v":15.85},{"s":"CFSR","x":2007,"v":16.00},{"s":"CFSR","x":2008,"v":15.85},{"s":"CFSR","x":2009,"v":15.90},{"s":"CFSR","x":2010,"v":16.00},
      {"s":"GRASP","x":1961,"v":15.00},{"s":"GRASP","x":1962,"v":14.50},{"s":"GRASP","x":1963,"v":14.92},{"s":"GRASP","x":1964,"v":14.85},{"s":"GRASP","x":1965,"v":14.77},{"s":"GRASP","x":1966,"v":14.62},{"s":"GRASP","x":1967,"v":14.52},{"s":"GRASP","x":1968,"v":14.63},{"s":"GRASP","x":1969,"v":14.57},{"s":"GRASP","x":1970,"v":14.60},{"s":"GRASP","x":1971,"v":14.45},{"s":"GRASP","x":1972,"v":14.43},{"s":"GRASP","x":1973,"v":14.72},{"s":"GRASP","x":1974,"v":14.60},{"s":"GRASP","x":1975,"v":14.45},{"s":"GRASP","x":1976,"v":14.14},{"s":"GRASP","x":1977,"v":14.62},{"s":"GRASP","x":1978,"v":14.14},{"s":"GRASP","x":1979,"v":14.45},{"s":"GRASP","x":1980,"v":14.72},{"s":"GRASP","x":1981,"v":14.88},{"s":"GRASP","x":1982,"v":14.80},{"s":"GRASP","x":1983,"v":14.60},{"s":"GRASP","x":1984,"v":14.51},{"s":"GRASP","x":1985,"v":14.65},{"s":"GRASP","x":1986,"v":15.31},{"s":"GRASP","x":1987,"v":14.94},{"s":"GRASP","x":1988,"v":14.60},{"s":"GRASP","x":1989,"v":14.31},{"s":"GRASP","x":1990,"v":14.88},{"s":"GRASP","x":1991,"v":15.00},{"s":"GRASP","x":1992,"v":14.83},{"s":"GRASP","x":1993,"v":14.48},{"s":"GRASP","x":1994,"v":14.85},{"s":"GRASP","x":1995,"v":14.78},{"s":"GRASP","x":1996,"v":14.14},{"s":"GRASP","x":1997,"v":15.11},{"s":"GRASP","x":1998,"v":15.17},{"s":"GRASP","x":1999,"v":14.77},{"s":"GRASP","x":2000,"v":15.00},{"s":"GRASP","x":2001,"v":15.08},{"s":"GRASP","x":2002,"v":14.83},{"s":"GRASP","x":2003,"v":14.86},{"s":"GRASP","x":2004,"v":15.00},{"s":"GRASP","x":2005,"v":15.23},{"s":"GRASP","x":2006,"v":15.40},{"s":"GRASP","x":2007,"v":15.30},{"s":"GRASP","x":2008,"v":15.45},{"s":"GRASP","x":2009,"v":15.35},{"s":"GRASP","x":2010,"v":15.40},
      {"s":"WATCH","x":1958,"v":14.88},{"s":"WATCH","x":1959,"v":15.08},{"s":"WATCH","x":1960,"v":14.77},{"s":"WATCH","x":1961,"v":15.06},{"s":"WATCH","x":1962,"v":14.65},{"s":"WATCH","x":1963,"v":14.88},{"s":"WATCH","x":1964,"v":14.77},{"s":"WATCH","x":1965,"v":14.80},{"s":"WATCH","x":1966,"v":14.74},{"s":"WATCH","x":1967,"v":14.83},{"s":"WATCH","x":1968,"v":14.68},{"s":"WATCH","x":1969,"v":14.80},{"s":"WATCH","x":1970,"v":14.77},{"s":"WATCH","x":1971,"v":14.70},{"s":"WATCH","x":1972,"v":14.57},{"s":"WATCH","x":1973,"v":15.31},{"s":"WATCH","x":1974,"v":14.91},{"s":"WATCH","x":1975,"v":14.97},{"s":"WATCH","x":1976,"v":14.65},{"s":"WATCH","x":1977,"v":15.17},{"s":"WATCH","x":1978,"v":14.34},{"s":"WATCH","x":1979,"v":14.31},{"s":"WATCH","x":1980,"v":14.94},{"s":"WATCH","x":1981,"v":15.14},{"s":"WATCH","x":1982,"v":14.86},{"s":"WATCH","x":1983,"v":14.94},{"s":"WATCH","x":1984,"v":14.88},{"s":"WATCH","x":1985,"v":14.90},{"s":"WATCH","x":1986,"v":15.20},{"s":"WATCH","x":1987,"v":15.51},{"s":"WATCH","x":1988,"v":15.92},{"s":"WATCH","x":1989,"v":15.20},{"s":"WATCH","x":1990,"v":15.14},{"s":"WATCH","x":1991,"v":15.51},{"s":"WATCH","x":1992,"v":15.40},{"s":"WATCH","x":1993,"v":14.94},{"s":"WATCH","x":1994,"v":14.68},{"s":"WATCH","x":1995,"v":15.31},{"s":"WATCH","x":1996,"v":14.65},{"s":"WATCH","x":1997,"v":15.29},{"s":"WATCH","x":1998,"v":15.92},{"s":"WATCH","x":1999,"v":15.80},{"s":"WATCH","x":2000,"v":15.17},{"s":"WATCH","x":2001,"v":15.70},
      {"s":"WFDEI","x":1979,"v":14.80},{"s":"WFDEI","x":1980,"v":15.26},{"s":"WFDEI","x":1981,"v":15.38},{"s":"WFDEI","x":1982,"v":15.16},{"s":"WFDEI","x":1983,"v":15.20},{"s":"WFDEI","x":1984,"v":15.12},{"s":"WFDEI","x":1985,"v":15.06},{"s":"WFDEI","x":1986,"v":15.32},{"s":"WFDEI","x":1987,"v":15.57},{"s":"WFDEI","x":1988,"v":15.96},{"s":"WFDEI","x":1989,"v":15.36},{"s":"WFDEI","x":1990,"v":15.16},{"s":"WFDEI","x":1991,"v":15.82},{"s":"WFDEI","x":1992,"v":15.80},{"s":"WFDEI","x":1993,"v":15.32},{"s":"WFDEI","x":1994,"v":14.96},{"s":"WFDEI","x":1995,"v":15.56},{"s":"WFDEI","x":1996,"v":14.79},{"s":"WFDEI","x":1997,"v":15.46},{"s":"WFDEI","x":1998,"v":16.19},{"s":"WFDEI","x":1999,"v":15.93},{"s":"WFDEI","x":2000,"v":15.47},{"s":"WFDEI","x":2001,"v":15.94},{"s":"WFDEI","x":2002,"v":16.02},{"s":"WFDEI","x":2003,"v":15.47},{"s":"WFDEI","x":2004,"v":15.62},{"s":"WFDEI","x":2005,"v":15.80},{"s":"WFDEI","x":2006,"v":15.98},{"s":"WFDEI","x":2007,"v":16.14},{"s":"WFDEI","x":2008,"v":16.02},{"s":"WFDEI","x":2009,"v":16.10},{"s":"WFDEI","x":2010,"v":16.22},{"s":"WFDEI","x":2011,"v":16.18},{"s":"WFDEI","x":2012,"v":16.35},
      {"s":"AgMERRA","x":1980,"v":15.30},{"s":"AgMERRA","x":1981,"v":15.42},{"s":"AgMERRA","x":1982,"v":15.20},{"s":"AgMERRA","x":1983,"v":15.22},{"s":"AgMERRA","x":1984,"v":15.15},{"s":"AgMERRA","x":1985,"v":15.10},{"s":"AgMERRA","x":1986,"v":15.35},{"s":"AgMERRA","x":1987,"v":15.60},{"s":"AgMERRA","x":1988,"v":16.00},{"s":"AgMERRA","x":1989,"v":15.40},{"s":"AgMERRA","x":1990,"v":15.20},{"s":"AgMERRA","x":1991,"v":15.85},{"s":"AgMERRA","x":1992,"v":15.85},{"s":"AgMERRA","x":1993,"v":15.35},{"s":"AgMERRA","x":1994,"v":15.00},{"s":"AgMERRA","x":1995,"v":15.58},{"s":"AgMERRA","x":1996,"v":14.80},{"s":"AgMERRA","x":1997,"v":15.48},{"s":"AgMERRA","x":1998,"v":16.22},{"s":"AgMERRA","x":1999,"v":15.95},{"s":"AgMERRA","x":2000,"v":15.50},{"s":"AgMERRA","x":2001,"v":15.96},{"s":"AgMERRA","x":2002,"v":16.05},{"s":"AgMERRA","x":2003,"v":15.50},{"s":"AgMERRA","x":2004,"v":15.65},{"s":"AgMERRA","x":2005,"v":15.82},{"s":"AgMERRA","x":2006,"v":16.00},{"s":"AgMERRA","x":2007,"v":16.15},{"s":"AgMERRA","x":2008,"v":16.02},{"s":"AgMERRA","x":2009,"v":16.10},{"s":"AgMERRA","x":2010,"v":16.20},
      {"s":"AgCFSR","x":1980,"v":15.25},{"s":"AgCFSR","x":1981,"v":15.36},{"s":"AgCFSR","x":1982,"v":15.15},{"s":"AgCFSR","x":1983,"v":15.18},{"s":"AgCFSR","x":1984,"v":15.10},{"s":"AgCFSR","x":1985,"v":15.05},{"s":"AgCFSR","x":1986,"v":15.30},{"s":"AgCFSR","x":1987,"v":15.55},{"s":"AgCFSR","x":1988,"v":15.95},{"s":"AgCFSR","x":1989,"v":15.35},{"s":"AgCFSR","x":1990,"v":15.15},{"s":"AgCFSR","x":1991,"v":15.80},{"s":"AgCFSR","x":1992,"v":15.78},{"s":"AgCFSR","x":1993,"v":15.30},{"s":"AgCFSR","x":1994,"v":14.95},{"s":"AgCFSR","x":1995,"v":15.55},{"s":"AgCFSR","x":1996,"v":14.78},{"s":"AgCFSR","x":1997,"v":15.45},{"s":"AgCFSR","x":1998,"v":16.18},{"s":"AgCFSR","x":1999,"v":15.92},{"s":"AgCFSR","x":2000,"v":15.45},{"s":"AgCFSR","x":2001,"v":15.92},{"s":"AgCFSR","x":2002,"v":16.00},{"s":"AgCFSR","x":2003,"v":15.45},{"s":"AgCFSR","x":2004,"v":15.60},{"s":"AgCFSR","x":2005,"v":15.78},{"s":"AgCFSR","x":2006,"v":15.95},{"s":"AgCFSR","x":2007,"v":16.10},{"s":"AgCFSR","x":2008,"v":15.98},{"s":"AgCFSR","x":2009,"v":16.05},{"s":"AgCFSR","x":2010,"v":16.12},
      {"s":"Princeton","x":1948,"v":15.30},{"s":"Princeton","x":1949,"v":15.46},{"s":"Princeton","x":1950,"v":14.68},{"s":"Princeton","x":1951,"v":14.75},{"s":"Princeton","x":1952,"v":15.20},{"s":"Princeton","x":1953,"v":15.74},{"s":"Princeton","x":1954,"v":15.45},{"s":"Princeton","x":1955,"v":15.20},{"s":"Princeton","x":1956,"v":14.92},{"s":"Princeton","x":1957,"v":15.12},{"s":"Princeton","x":1958,"v":15.14},{"s":"Princeton","x":1959,"v":15.22},{"s":"Princeton","x":1960,"v":15.05},{"s":"Princeton","x":1961,"v":15.23},{"s":"Princeton","x":1962,"v":15.10},{"s":"Princeton","x":1963,"v":15.05},{"s":"Princeton","x":1964,"v":15.10},{"s":"Princeton","x":1965,"v":14.97},{"s":"Princeton","x":1966,"v":15.06},{"s":"Princeton","x":1967,"v":14.97},{"s":"Princeton","x":1968,"v":15.06},{"s":"Princeton","x":1969,"v":15.08},{"s":"Princeton","x":1970,"v":15.05},{"s":"Princeton","x":1971,"v":14.95},{"s":"Princeton","x":1972,"v":14.82},{"s":"Princeton","x":1973,"v":15.54},{"s":"Princeton","x":1974,"v":15.10},{"s":"Princeton","x":1975,"v":15.17},{"s":"Princeton","x":1976,"v":14.83},{"s":"Princeton","x":1977,"v":15.43},{"s":"Princeton","x":1978,"v":14.86},{"s":"Princeton","x":1979,"v":14.77},{"s":"Princeton","x":1980,"v":15.38},{"s":"Princeton","x":1981,"v":15.46},{"s":"Princeton","x":1982,"v":15.25},{"s":"Princeton","x":1983,"v":15.30},{"s":"Princeton","x":1984,"v":15.22},{"s":"Princeton","x":1985,"v":15.15},{"s":"Princeton","x":1986,"v":15.40},{"s":"Princeton","x":1987,"v":15.62},{"s":"Princeton","x":1988,"v":15.98},{"s":"Princeton","x":1989,"v":15.45},{"s":"Princeton","x":1990,"v":15.22},{"s":"Princeton","x":1991,"v":15.82},{"s":"Princeton","x":1992,"v":15.84},{"s":"Princeton","x":1993,"v":15.38},{"s":"Princeton","x":1994,"v":14.98},{"s":"Princeton","x":1995,"v":15.60},{"s":"Princeton","x":1996,"v":14.82},{"s":"Princeton","x":1997,"v":15.50},{"s":"Princeton","x":1998,"v":16.20},{"s":"Princeton","x":1999,"v":15.97},{"s":"Princeton","x":2000,"v":15.52},{"s":"Princeton","x":2001,"v":15.95},{"s":"Princeton","x":2002,"v":16.03},{"s":"Princeton","x":2003,"v":15.45},{"s":"Princeton","x":2004,"v":15.62},{"s":"Princeton","x":2005,"v":15.80},{"s":"Princeton","x":2006,"v":15.98},{"s":"Princeton","x":2007,"v":16.14},{"s":"Princeton","x":2008,"v":16.00}
    ]
  },
  "concat": [
    {
      "title": "rain-fed wheat area",
      "width": 204, "height": 158,
      "data": {"name": "A"},
      "layer": [
        {
          "mark": {"type": "line", "strokeWidth": 1.5},
          "encoding": {
            "x": {"field": "x", "type": "quantitative", "title": "year", "scale": {"domain": [1945.44, 2014.56], "nice": false, "zero": false}, "axis": {"values": [1950, 1960, 1970, 1980, 1990, 2000, 2010], "format": "d", "labelExpr": "datum.value % 20 == 10 ? datum.label : ''"}},
            "y": {"field": "v", "type": "quantitative", "title": "annual mean temperature [°C]", "scale": {"domain": [8.676, 11.006], "nice": false, "zero": false}, "axis": {"values": [9, 9.5, 10, 10.5], "format": ".1f"}},
            "color": {"field": "s", "type": "nominal", "scale": {"domain": ["WATCH", "AgMERRA", "GRASP", "WFDEI", "AgCFSR", "Princeton", "CFSR", "ERA-I"], "range": ["#e8262c", "#d2de1e", "#3de3f0", "#f4a52a", "#3fcf1a", "#25e07c", "#3a8cff", "#9a86ff"]}, "legend": {"title": null, "orient": "none", "legendX": 61, "legendY": 423, "direction": "horizontal", "columns": 3, "symbolType": "M-2,0H2", "symbolSize": 121, "symbolOffset": 9.5, "symbolStrokeWidth": 1.4, "labelFont": "Liberation Sans", "labelFontSize": 11, "labelColor": "#222", "labelOffset": 14, "padding": 6, "strokeColor": "#333", "columnPadding": 7, "rowPadding": 4, "gridAlign": "all"}},
            "strokeDash": {"field": "s", "type": "nominal", "scale": {"domain": ["WATCH", "AgMERRA", "GRASP", "WFDEI", "AgCFSR", "Princeton", "CFSR", "ERA-I"], "range": [[1, 0], [1, 0], [1, 0], [1, 0], [1, 0], [1, 0], [1.5, 1.5], [1.5, 1.5]]}, "legend": null}
          }
        },
        {
          "data": {"values": [{}]},
          "mark": {"type": "text", "font": "Liberation Sans", "fontSize": 11, "color": "#333", "align": "center", "baseline": "middle"},
          "encoding": {"x": {"datum": 1949.8, "type": "quantitative"}, "y": {"datum": 10.66, "type": "quantitative"}, "text": {"value": "A"}}
        }
      ]
    },
    {
      "title": "rain-fed rice area",
      "width": 204, "height": 158,
      "data": {"name": "B"},
      "layer": [
        {
          "mark": {"type": "line", "strokeWidth": 1.5},
          "encoding": {
            "x": {"field": "x", "type": "quantitative", "title": "year", "scale": {"domain": [1945.44, 2014.56], "nice": false, "zero": false}, "axis": {"values": [1950, 1960, 1970, 1980, 1990, 2000, 2010], "format": "d", "labelExpr": "datum.value % 20 == 10 ? datum.label : ''"}},
            "y": {"field": "v", "type": "quantitative", "title": "annual mean temperature [°C]", "scale": {"domain": [22.66, 25.82], "nice": false, "zero": false}, "axis": {"values": [23, 23.5, 24, 24.5, 25, 25.5], "format": ".1f", "labelExpr": "datum.value % 1 == 0 ? datum.label : ''"}},
            "color": {"field": "s", "type": "nominal"},
            "strokeDash": {"field": "s", "type": "nominal"}
          }
        },
        {
          "data": {"values": [{}]},
          "mark": {"type": "text", "font": "Liberation Sans", "fontSize": 11, "color": "#333", "align": "center", "baseline": "middle"},
          "encoding": {"x": {"datum": 1950.6, "type": "quantitative"}, "y": {"datum": 25.35, "type": "quantitative"}, "text": {"value": "B"}}
        }
      ]
    },
    {
      "title": "rain-fed maize area",
      "width": 204, "height": 158,
      "data": {"name": "C"},
      "layer": [
        {
          "mark": {"type": "line", "strokeWidth": 1.5},
          "encoding": {
            "x": {"field": "x", "type": "quantitative", "title": "year", "scale": {"domain": [1945.44, 2014.56], "nice": false, "zero": false}, "axis": {"values": [1950, 1960, 1970, 1980, 1990, 2000, 2010], "format": "d", "labelExpr": "datum.value % 20 == 10 ? datum.label : ''"}},
            "y": {"field": "v", "type": "quantitative", "title": "annual mean temperature [°C]", "scale": {"domain": [14.22, 16.70], "nice": false, "zero": false}, "axis": {"values": [14.5, 15, 15.5, 16, 16.5], "format": ".1f"}},
            "color": {"field": "s", "type": "nominal"},
            "strokeDash": {"field": "s", "type": "nominal"}
          }
        },
        {
          "data": {"values": [{}]},
          "mark": {"type": "text", "font": "Liberation Sans", "fontSize": 11, "color": "#333", "align": "center", "baseline": "middle"},
          "encoding": {"x": {"datum": 1949.8, "type": "quantitative"}, "y": {"datum": 16.35, "type": "quantitative"}, "text": {"value": "C"}}
        }
      ]
    },
    {
      "title": "rain-fed soy area",
      "width": 204, "height": 158,
      "data": {"name": "D"},
      "layer": [
        {
          "mark": {"type": "line", "strokeWidth": 1.5},
          "encoding": {
            "x": {"field": "x", "type": "quantitative", "title": "year", "scale": {"domain": [1945.44, 2014.56], "nice": false, "zero": false}, "axis": {"values": [1950, 1960, 1970, 1980, 1990, 2000, 2010], "format": "d", "labelExpr": "datum.value % 20 == 10 ? datum.label : ''"}},
            "y": {"field": "v", "type": "quantitative", "title": "annual mean temperature [°C]", "scale": {"domain": [14.0, 16.72], "nice": false, "zero": false}, "axis": {"values": [14.5, 15, 15.5, 16, 16.5], "format": ".1f", "labelExpr": "datum.value % 1 == 0.5 ? datum.label : ''"}},
            "color": {"field": "s", "type": "nominal"},
            "strokeDash": {"field": "s", "type": "nominal"}
          }
        },
        {
          "data": {"values": [{}]},
          "mark": {"type": "text", "font": "Liberation Sans", "fontSize": 11, "color": "#333", "align": "center", "baseline": "middle"},
          "encoding": {"x": {"datum": 1950.2, "type": "quantitative"}, "y": {"datum": 16.33, "type": "quantitative"}, "text": {"value": "D"}}
        }
      ]
    }
  ],
  "resolve": {"scale": {"x": "independent", "y": "independent", "color": "shared", "strokeDash": "shared"}}
}
